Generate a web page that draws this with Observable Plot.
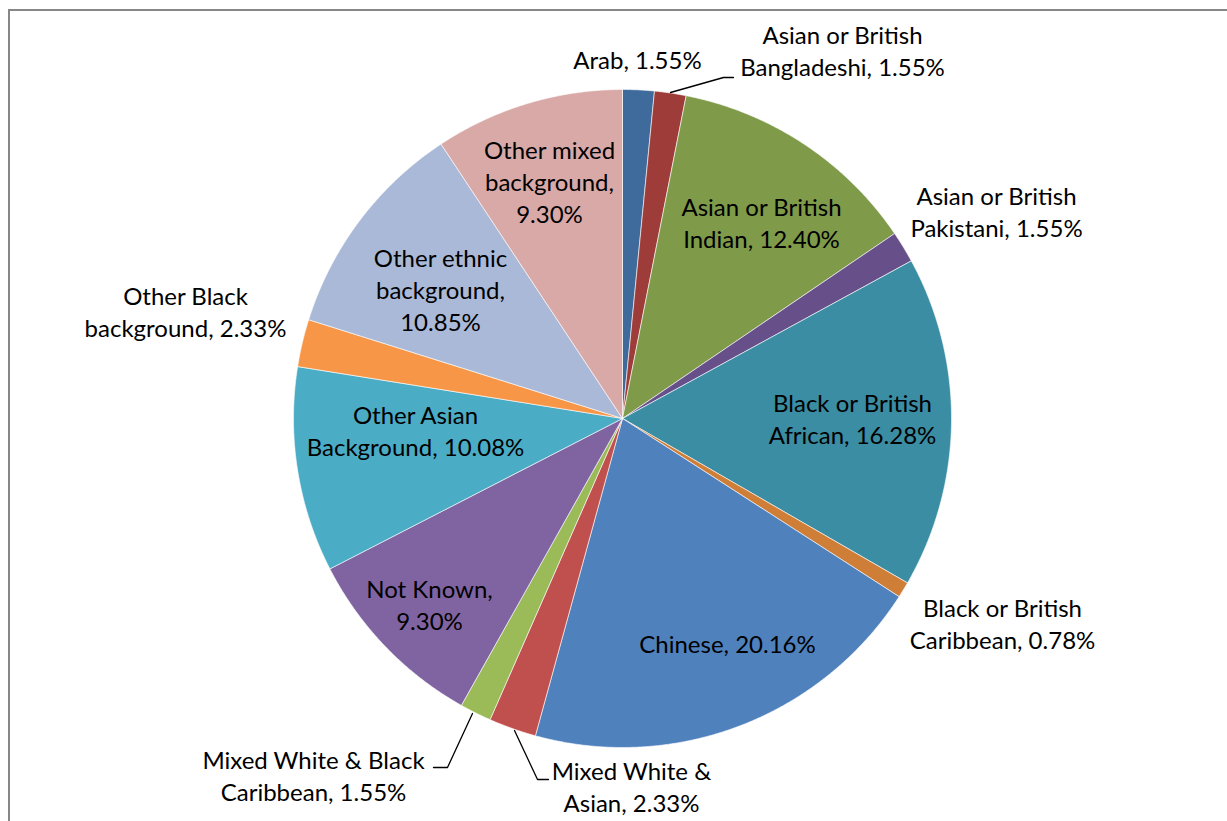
<!DOCTYPE html>
<html>
<head>
<meta charset="utf-8">
<script src="https://cdn.jsdelivr.net/npm/d3@7"></script>
<script src="https://cdn.jsdelivr.net/npm/@observablehq/plot@0.6"></script>
<style>
  html, body { margin: 0; padding: 0; background: #fff; overflow: hidden; }
  #wrap { position: relative; width: 1227px; height: 821px; }
  #frame { position: absolute; left: 8px; top: 9px; width: 2000px; height: 2000px;
           border-left: 2px solid #878787; border-top: 2px solid #878787; box-sizing: border-box; }
  #chart { position: absolute; left: 0; top: 0; }
</style>
</head>
<body>
<div id="wrap"><div id="frame"></div><div id="chart"></div></div>
<script>
// ---- data ----
const categories = [
  "Arab",
  "Asian or British Bangladeshi",
  "Asian or British Indian",
  "Asian or British Pakistani",
  "Black or British African",
  "Black or British Caribbean",
  "Chinese",
  "Mixed White & Asian",
  "Mixed White & Black Caribbean",
  "Not Known",
  "Other Asian Background",
  "Other Black background",
  "Other ethnic background",
  "Other mixed background"
];
const values = [1.55, 1.55, 12.40, 1.55, 16.28, 0.78, 20.16, 2.33, 1.55, 9.30, 10.08, 2.33, 10.85, 9.30];
const colors = [
  "#3F6B9C", "#9E3C3A", "#7F9A48", "#67508A", "#3A8DA3", "#CF7E38", "#4F81BD",
  "#C0504D", "#9BBB59", "#8064A2", "#4BACC6", "#F79646", "#AAB9D7", "#D9A9A8"
];
// label text layout (line breaks as in the reference)
const labelNames = [
  "Arab",
  "Asian or British\nBangladeshi",
  "Asian or British\nIndian",
  "Asian or British\nPakistani",
  "Black or British\nAfrican",
  "Black or British\nCaribbean",
  "Chinese",
  "Mixed White &\nAsian",
  "Mixed White & Black\nCaribbean",
  "Not Known",
  "Other Asian\nBackground",
  "Other Black\nbackground",
  "Other ethnic\nbackground",
  "Other mixed\nbackground"
];
const pctOnNewLine = [false, false, false, false, false, false, false, false, false, true, false, false, true, true];

// ---- layout (pixel offsets from the pie centre) ----
const R = 329;
const labelPos = [
  [15, -360], [220, -369], [139, -197], [374, -208], [230, -1], [380, 204], [105, 224],
  [9, 367], [-309, 356], [-193, 185], [-207, 11], [-437, -108], [-182, -130], [-73, -238]
];
const leaders = [
  {id: "Asian or British Bangladeshi", pts: [[48, -326], [101, -341], [111, -341]]},
  {id: "Mixed White & Asian", pts: [[-108, 312], [-85, 361], [-74, 361]]},
  {id: "Mixed White & Black Caribbean", pts: [[-150, 295], [-175, 349], [-189, 349]]}
];

// ---- build slices ----
const total = d3.sum(values);
const slicePts = [];
let cum = 0;
categories.forEach((name, i) => {
  const a0 = cum / total * 2 * Math.PI;
  cum += values[i];
  const a1 = cum / total * 2 * Math.PI;
  const n = Math.max(2, Math.ceil((a1 - a0) / (Math.PI / 720)));
  slicePts.push({name, x: 0, y: 0});
  for (let k = 0; k <= n; k++) {
    const a = a0 + (a1 - a0) * k / n;
    slicePts.push({name, x: R * Math.sin(a), y: -R * Math.cos(a)});
  }
  slicePts.push({name, x: 0, y: 0});
});

const labelData = categories.map((name, i) => ({
  name,
  x: labelPos[i][0],
  y: labelPos[i][1],
  text: labelNames[i] + "," + (pctOnNewLine[i] ? "\n" : " ") + values[i].toFixed(2) + "%"
}));

const leaderPts = leaders.flatMap(l => l.pts.map(p => ({id: l.id, x: p[0], y: p[1]})));

const cx = 622, cy = 418, W = 1227, H = 821;
const chart = Plot.plot({
  width: W,
  height: H,
  margin: 0,
  x: {domain: [-cx, W - cx], range: [0, W], axis: null},
  y: {domain: [-cy, H - cy], range: [0, H], axis: null},
  color: {domain: categories, range: colors},
  style: {background: "transparent", overflow: "visible"},
  marks: [
    Plot.line(slicePts, {x: "x", y: "y", z: "name", fill: "name", stroke: "white", strokeWidth: 0.6, curve: "linear"}),
    Plot.line(leaderPts, {x: "x", y: "y", z: "id", stroke: "black", strokeWidth: 1.3}),
    Plot.text(labelData, {
      x: "x", y: "y", text: "text",
      fontSize: 24, lineHeight: 1.333, fill: "black",
      fontFamily: "Lato, 'Open Sans', sans-serif", textAnchor: "middle", lineAnchor: "middle"
    })
  ]
});
document.getElementById("chart").appendChild(chart);
</script>
</body>
</html>
